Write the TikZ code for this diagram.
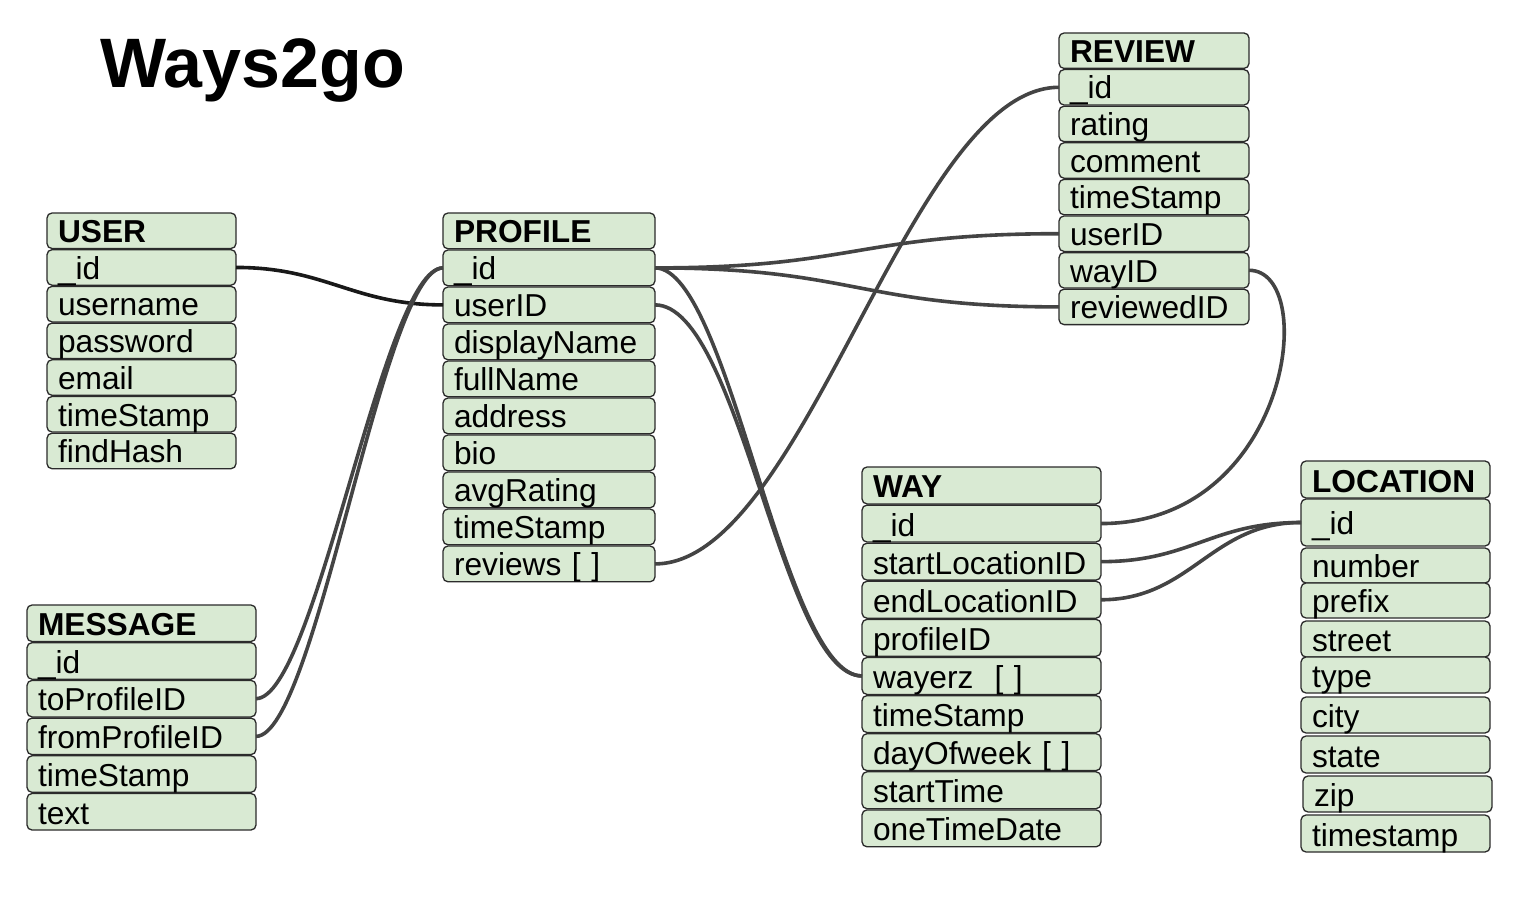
\documentclass[tikz,border=0pt]{standalone}
\usepackage{fontspec}
\setmainfont{Liberation Sans}
\definecolor{boxgreen}{HTML}{D9EAD3}
\definecolor{boxline}{HTML}{2B2B2B}
\definecolor{linkgray}{HTML}{444444}
\newcommand\rowbox[7]{% #1 name #2 x #3 ytop #4 w #5 h #6 baseline offset #7 text
  \pgfmathsetmacro\rbw{#4-22}%
  \pgfmathsetmacro\rbh{#5-#6}%
  \node[field, text width=\rbw pt, text height=\rbh pt, text depth=#6pt] (#1) at (#2,#3) {#7};}
\newcommand\entity[7]{% #1 name #2 x #3 ytop #4 w #5 pitch #6 header #7 list
  \pgfmathsetmacro\enth{#5-1.2}%
  \rowbox{#1-0}{#2}{#3}{#4}{\enth}{6}{\bfseries #6}%
  \foreach \txt [count=\i] in {#7} {%
    \pgfmathsetmacro\ry{#3+\i*#5}%
    \pgfmathsetmacro\enth{#5-1.2}%
    \rowbox{#1-\i}{#2}{\ry}{#4}{\enth}{6}{\txt}%
  }}
\begin{document}
\begin{tikzpicture}[x=1pt,y=-1pt,
  field/.style={draw=boxline, line width=1.3pt, fill=boxgreen, rounded corners=5pt,
    anchor=north west, inner xsep=11pt, inner ysep=0pt, outer sep=0pt, align=left,
    font=\fontsize{31.7}{36}\selectfont},
  link/.style={draw=linkgray, line width=3.6pt},
  blacklink/.style={draw=black!90, line width=3.6pt}]
\useasboundingbox (0,0) rectangle (1522,904);
\fill[white] (0,0) rectangle (1522,904);

\node[anchor=base west, inner sep=0pt, font=\bfseries\fontsize{70}{74}\selectfont] (title) at (100,88) {Ways2go};

\entity{user}{47}{213}{189}{36.7}{USER}{\_id, username, password, email, timeStamp, findHash}
\entity{profile}{443}{213}{212}{37.0}{PROFILE}{\_id, userID, displayName, fullName, address, bio, avgRating, timeStamp, reviews [ ]}
\entity{review}{1059}{33}{190}{36.6}{REVIEW}{\_id, rating, comment, timeStamp, userID, wayID, reviewedID}
\entity{way}{862}{467}{239}{38.1}{WAY}{\_id, startLocationID, endLocationID, profileID, wayerz~ [ ], timeStamp, dayOfweek [ ], startTime, oneTimeDate}
\entity{message}{27}{605}{229}{37.7}{MESSAGE}{\_id, toProfileID, fromProfileID, timeStamp, text}

\rowbox{loc-0}{1301}{461}{189}{37}{6}{\bfseries LOCATION}
\rowbox{loc-1}{1301}{499}{189}{47}{12}{\_id}
\rowbox{loc-2}{1301}{548}{189}{35}{6}{number}
\rowbox{loc-3}{1301}{583}{189}{35}{6}{prefix}
\rowbox{loc-4}{1301}{621}{189}{36}{6}{street}
\rowbox{loc-5}{1301}{657}{189}{36}{6}{type}
\rowbox{loc-6}{1301}{697}{189}{36}{6}{city}
\rowbox{loc-7}{1301}{736}{189}{37}{6}{state}
\rowbox{loc-8}{1303}{776}{189}{36}{6}{zip}
\rowbox{loc-9}{1301}{815}{189}{37}{6}{timestamp}

% connectors
\draw[blacklink] (user-1.east) .. controls +(90,0) and +(-90,0) .. (profile-2.west);
\draw[link] (profile-1.west) .. controls +(-60,0) and +(60,0) .. (message-2.east);
\draw[link] (profile-1.west) .. controls +(-60,0) and +(60,0) .. (message-3.east);
\draw[link] (profile-1.east) .. controls +(200,0) and +(-200,0) .. (review-5.west);
\draw[link] (profile-1.east) .. controls +(200,0) and +(-200,0) .. (review-7.west);
\draw[link] (profile-1.east) .. controls +(75,0) and +(-80,0) .. (way-5.west);
\draw[link] (profile-2.east) .. controls +(85,0) and +(-80,0) .. (way-5.west);
\draw[link] (profile-9.east) .. controls +(150,0) and +(-150,0) .. (review-1.west);
\draw[link] (review-6.east) .. controls +(71,0) and +(189,0) .. (way-1.east);
\draw[link] (way-2.east) .. controls +(90,0) and +(-90,0) .. (loc-1.west);
\draw[link] (way-3.east) .. controls +(90,0) and +(-90,0) .. (loc-1.west);
\end{tikzpicture}
\end{document}
